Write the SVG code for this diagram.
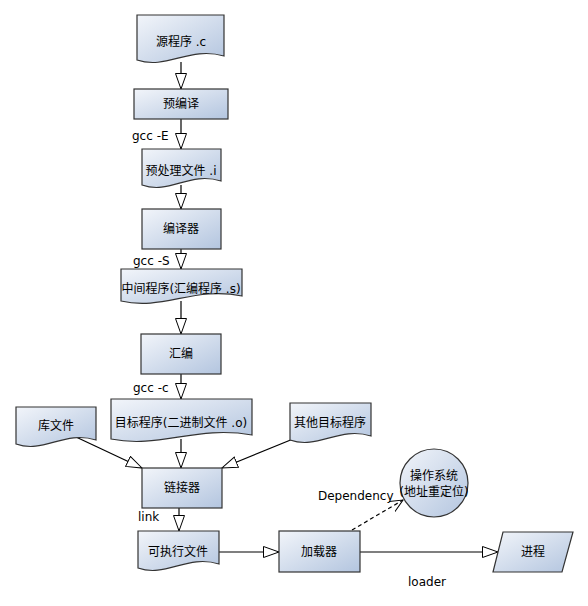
<svg xmlns="http://www.w3.org/2000/svg" width="588" height="606" viewBox="0 0 588 606">
<defs>
<linearGradient id="g" x1="0" y1="0" x2="1" y2="1">
<stop offset="0" stop-color="#f2f5fa"/>
<stop offset="1" stop-color="#b3c5df"/>
</linearGradient>
<marker id="tri" markerUnits="userSpaceOnUse" markerWidth="18" markerHeight="14" refX="16" refY="6" orient="auto">
<path d="M0.5,0.5 L16,6 L0.5,11.5 Z" fill="#fff" stroke="#000" stroke-width="1"/>
</marker>
<marker id="open" markerUnits="userSpaceOnUse" markerWidth="16" markerHeight="14" refX="13" refY="6" orient="auto">
<path d="M0,0 L13,6 L0,12" fill="none" stroke="#000" stroke-width="1"/>
</marker>
</defs>
<style>
.n{fill:url(#g);stroke:#333;stroke-width:1.2}
.t{font-family:"DejaVu Sans","Noto Sans CJK SC",sans-serif;font-size:12px;fill:#000;text-anchor:middle}
.l{font-family:"DejaVu Sans","Noto Sans CJK SC",sans-serif;font-size:12px;fill:#000}
.e{fill:none;stroke:#000;stroke-width:1.2}
</style>
<g id="connectors">
<line class="e" x1="181" y1="62" x2="181" y2="89" marker-end="url(#tri)"/>
<line class="e" x1="181" y1="119" x2="181" y2="149" marker-end="url(#tri)"/>
<line class="e" x1="181" y1="185" x2="181" y2="209" marker-end="url(#tri)"/>
<line class="e" x1="181" y1="249" x2="181" y2="269" marker-end="url(#tri)"/>
<line class="e" x1="181" y1="301" x2="181" y2="334" marker-end="url(#tri)"/>
<line class="e" x1="181" y1="374" x2="181" y2="399" marker-end="url(#tri)"/>
<line class="e" x1="181" y1="439" x2="181" y2="468" marker-end="url(#tri)"/>
<line class="e" x1="76" y1="437" x2="142" y2="468" marker-end="url(#tri)"/>
<line class="e" x1="293" y1="439" x2="222" y2="468" marker-end="url(#tri)"/>
<line class="e" x1="179" y1="508" x2="179" y2="531" marker-end="url(#tri)"/>
<line class="e" x1="219" y1="552" x2="279" y2="552" marker-end="url(#tri)"/>
<line class="e" x1="360" y1="552" x2="498" y2="552" marker-end="url(#tri)"/>
<line class="e" x1="352" y1="530" x2="403" y2="500" stroke-dasharray="4,3" marker-end="url(#open)"/>
<text class="l" x="132" y="140">gcc -E</text>
<text class="l" x="133" y="265">gcc -S</text>
<text class="l" x="133" y="392">gcc -c</text>
<text class="l" x="138" y="521">link</text>
<text class="l" x="318" y="500">Dependency</text>
<text class="l" x="408" y="586">loader</text>
</g>
<g id="src">
<path class="n" d="M137,15 H224 V56 C189,46 167,70 137,60 Z"/>
<text class="t" x="181" y="46">源程序 .c</text>
</g>
<g id="precompile">
<rect class="n" x="134" y="89" width="94" height="30"/>
<text class="t" x="181" y="108">预编译</text>
</g>
<g id="preprocessed">
<path class="n" d="M142,149 H221 V181 C189,171 170,195 142,185 Z"/>
<text class="t" x="181" y="175">预处理文件 .i</text>
</g>
<g id="compiler">
<rect class="n" x="142" y="209" width="79" height="40"/>
<text class="t" x="181" y="233">编译器</text>
</g>
<g id="asmsrc">
<path class="n" d="M121,269 H242 V296 C194,286 163,311 121,301 Z"/>
<text class="t" x="181" y="293">中间程序(汇编程序 .s)</text>
</g>
<g id="assembler">
<rect class="n" x="141" y="334" width="80" height="40"/>
<text class="t" x="181" y="358">汇编</text>
</g>
<g id="object">
<path class="n" d="M111,399 H252 V435 C196,425 160,449 111,439 Z"/>
<text class="t" x="181" y="427">目标程序(二进制文件 .o)</text>
</g>
<g id="lib">
<path class="n" d="M16,407 H96 V440 C64,430 44,454 16,444 Z"/>
<text class="t" x="56" y="430">库文件</text>
</g>
<g id="others">
<path class="n" d="M290,403 H371 V436 C339,426 318,450 290,440 Z"/>
<text class="t" x="330" y="427">其他目标程序</text>
</g>
<g id="linker">
<rect class="n" x="142" y="468" width="80" height="40"/>
<text class="t" x="182" y="492">链接器</text>
</g>
<g id="exe">
<path class="n" d="M138,531 H219 V564 C187,554 166,578 138,568 Z"/>
<text class="t" x="178" y="556">可执行文件</text>
</g>
<g id="loader">
<rect class="n" x="279" y="531" width="81" height="41"/>
<text class="t" x="319" y="556">加载器</text>
</g>
<g id="os">
<circle class="n" cx="434" cy="483" r="34"/>
<text class="t" x="434" y="480">操作系统</text>
<text class="t" x="434" y="496">(地址重定位)</text>
</g>
<g id="process">
<path class="n" d="M503,532 H573 L562,572 H493 Z"/>
<text class="t" x="533" y="556">进程</text>
</g>
</svg>
